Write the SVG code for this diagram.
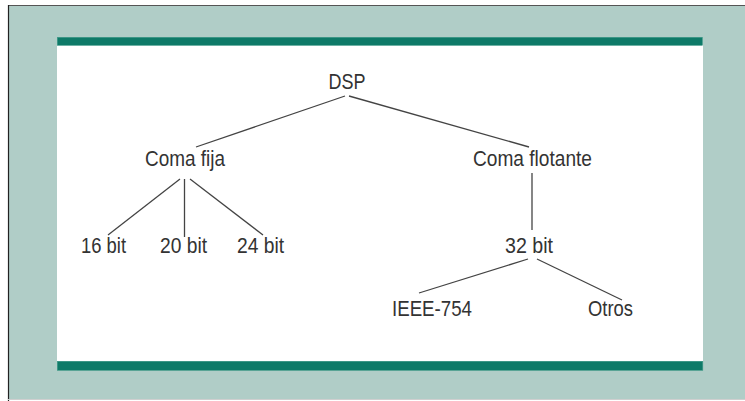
<svg xmlns="http://www.w3.org/2000/svg" width="745" height="401" viewBox="0 0 745 401">
  <style>
    .lbl { font-family: "Liberation Sans", Arial, sans-serif; font-size: 22.5px; fill: #333333; text-anchor: middle; }
    .edge { stroke: #444444; stroke-width: 1.3; fill: none; }
    .bar { fill: #0E7A68; stroke: #3E9A88; stroke-width: 0.6; }
  </style>
  <rect x="0" y="0" width="745" height="401" fill="#ffffff"/>
  <!-- slide frame -->
  <rect x="8.5" y="6" width="736.5" height="393" fill="#B0CDC7"/>
  <line x1="8" y1="5.5" x2="745" y2="5.5" stroke="#555555" stroke-width="1.2"/>
  <line x1="8.5" y1="5" x2="8.5" y2="401" stroke="#222222" stroke-width="1.2"/>
  <line x1="8" y1="399.5" x2="745" y2="399.5" stroke="#cfcfcf" stroke-width="1"/>
  <rect x="57" y="45" width="646" height="316" fill="#ffffff"/>
  <rect class="bar" x="57.3" y="37.3" width="645" height="8"/>
  <rect class="bar" x="57.3" y="361.3" width="645.5" height="9"/>

  <g id="connectors">
    <line class="edge" x1="345" y1="96" x2="196" y2="147"/>
    <line class="edge" x1="349" y1="96" x2="529" y2="147"/>
    <line class="edge" x1="180" y1="179" x2="108" y2="235"/>
    <line class="edge" x1="184.5" y1="179" x2="184.5" y2="237"/>
    <line class="edge" x1="190" y1="179" x2="263" y2="235"/>
    <line class="edge" x1="532" y1="173" x2="532" y2="230"/>
    <line class="edge" x1="528" y1="259" x2="419" y2="293"/>
    <line class="edge" x1="537" y1="259" x2="622" y2="300"/>
  </g>

  <g id="dsp"><text class="lbl" x="347" y="89" textLength="37" lengthAdjust="spacingAndGlyphs">DSP</text></g>
  <g id="coma-fija"><text class="lbl" x="185" y="166" textLength="80" lengthAdjust="spacingAndGlyphs">Coma fija</text></g>
  <g id="coma-flotante"><text class="lbl" x="532.5" y="166" textLength="119" lengthAdjust="spacingAndGlyphs">Coma flotante</text></g>
  <g id="bit16"><text class="lbl" x="103.5" y="253" textLength="45" lengthAdjust="spacingAndGlyphs">16 bit</text></g>
  <g id="bit20"><text class="lbl" x="183.5" y="253" textLength="47" lengthAdjust="spacingAndGlyphs">20 bit</text></g>
  <g id="bit24"><text class="lbl" x="260.5" y="253" textLength="47" lengthAdjust="spacingAndGlyphs">24 bit</text></g>
  <g id="bit32"><text class="lbl" x="529" y="253" textLength="48" lengthAdjust="spacingAndGlyphs">32 bit</text></g>
  <g id="ieee754"><text class="lbl" x="432" y="316" textLength="80" lengthAdjust="spacingAndGlyphs">IEEE-754</text></g>
  <g id="otros"><text class="lbl" x="610.5" y="316" textLength="45" lengthAdjust="spacingAndGlyphs">Otros</text></g>
</svg>
